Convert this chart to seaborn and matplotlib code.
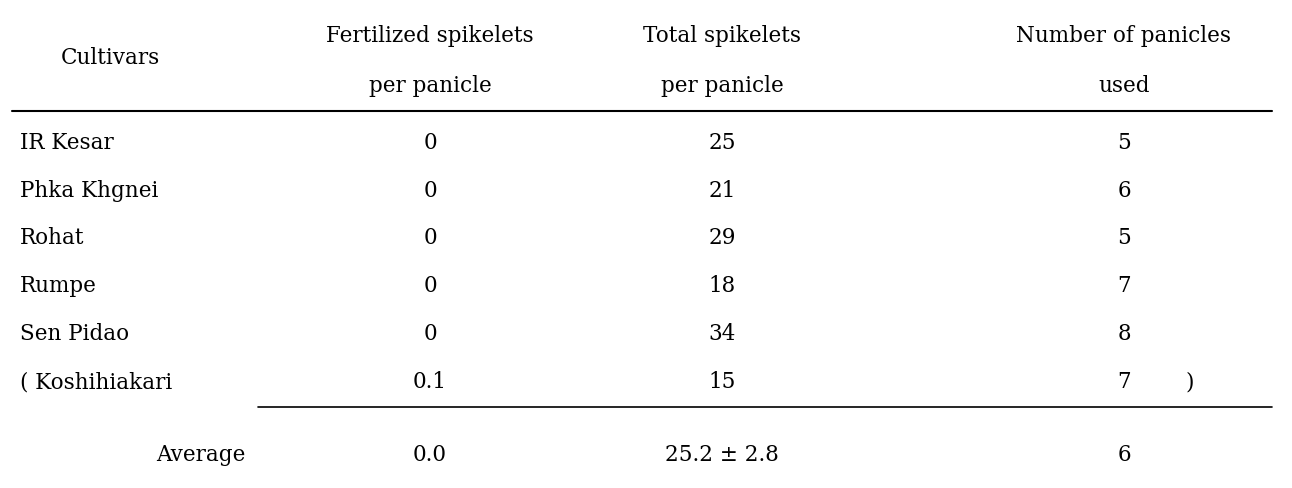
import matplotlib
matplotlib.use("Agg")
import matplotlib.pyplot as plt
import seaborn as sns

sns.set_theme(style="white")
plt.rcParams["font.family"] = ["DejaVu Serif", "Liberation Serif"]
plt.rcParams["text.color"] = "black"

# table content
cultivars = ["IR Kesar", "Phka Khgnei", "Rohat", "Rumpe", "Sen Pidao", "( Koshihiakari"]
fertilized = ["0", "0", "0", "0", "0", "0.1"]
total = ["25", "21", "29", "18", "34", "15"]
panicles = ["5", "6", "5", "7", "8", "7"]
average = ["0.0", "25.2 \u00b1 2.8", "6"]
headers = ["Cultivars", "Fertilized spikelets\nper panicle",
           "Total spikelets\nper panicle", "Number of panicles\nused"]

W, H = 1292, 489
fig, ax = plt.subplots(figsize=(W / 100, H / 100), dpi=100)
fig.subplots_adjust(0, 0, 1, 1)
ax.set_xlim(0, W)
ax.set_ylim(H, 0)
ax.axis("off")

fs = 15.5
col_x = [110, 430, 722, 1124]
ax.text(col_x[0], 58, headers[0], ha="center", va="center", fontsize=fs)
for x, h in zip(col_x[1:], headers[1:]):
    top, bottom = h.split("\n")
    ax.text(x, 36, top, ha="center", va="center", fontsize=fs)
    ax.text(x, 86, bottom, ha="center", va="center", fontsize=fs)

ax.plot([12, 1272], [112, 112], color="black", lw=1.5)

row_y = [143, 191, 238, 286, 334, 382]
for y, c, f, t, p in zip(row_y, cultivars, fertilized, total, panicles):
    ax.text(20, y, c, ha="left", va="center", fontsize=fs)
    ax.text(col_x[1], y, f, ha="center", va="center", fontsize=fs)
    ax.text(col_x[2], y, t, ha="center", va="center", fontsize=fs)
    ax.text(col_x[3], y, p, ha="center", va="center", fontsize=fs)
ax.text(1190, row_y[-1], ")", ha="center", va="center", fontsize=fs)

ax.plot([258, 1272], [408, 408], color="black", lw=1.2)
ax.text(245, 455, "Average", ha="right", va="center", fontsize=fs)
for x, v in zip(col_x[1:], average):
    ax.text(x, 455, v, ha="center", va="center", fontsize=fs)

fig.savefig("out.png", dpi=100)
